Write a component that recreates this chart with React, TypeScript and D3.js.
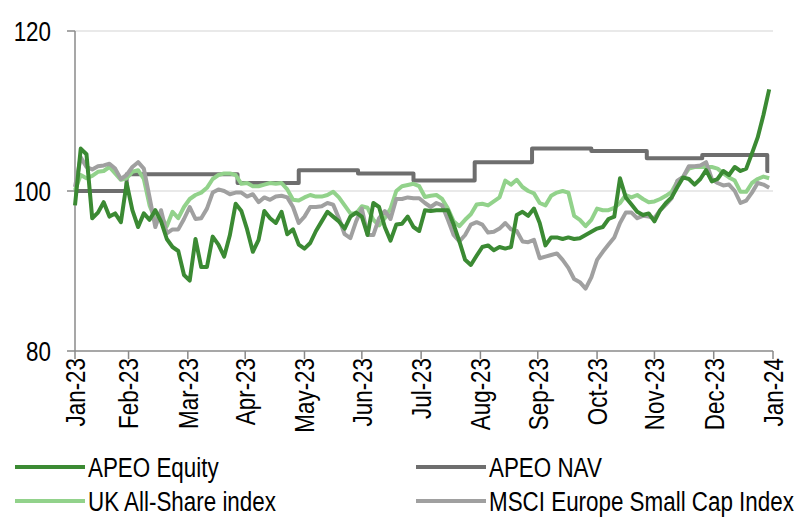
import React from "react";
import * as d3 from "d3";

const startDate = "2023-01-31";
const stepDays = 3;
const axisStart = "2023-01-31";
const axisEnd = "2024-01-31";
const yTicks = [80, 100, 120];

const apeoEquity = [
  98.2, 105.3, 104.6, 96.6, 97.3, 98.6, 96.8, 97.2, 96.1, 101, 97.6, 95.5, 97.2, 96.4, 97.6, 96.2, 94, 93, 92.5, 89.5,
  88.8, 94, 90.5, 90.5, 94.3, 93.3, 91.8, 94.5, 98.4, 97.5, 95.2, 92.4, 93.9, 97.5, 96.6, 96, 97.4, 94.6, 95.2, 93.3,
  92.8, 93.5, 95, 96.2, 97.4, 96.8, 96.2, 95.3, 96.8, 97.3, 96.8, 94.5, 98.5, 98, 95.5, 93.8, 95.8, 95.9, 96.8, 95.5,
  95, 97.6, 97.5, 97.6, 97.6, 97.6, 95.8, 93.7, 91.4, 90.75, 91.9, 93, 93.2, 92.6, 93, 92.8, 93, 97, 97.4, 96.9,
  97.8, 96, 93.2, 94.2, 94.2, 94, 94.2, 94, 94.1, 94.5, 94.9, 95.3, 95.5, 96.5, 96.8, 101.6, 99.2, 98.3, 97.4, 97,
  97.2, 96.2, 97.6, 98.5, 99.2, 100.5, 101.7, 101.5, 100.8, 101.5, 102.6, 101.2, 101.5, 102.5, 102, 103, 102.5, 102.8, 104.7, 106.7,
  109.5, 112.7,
];

const ukAllShare = [
  100.1, 102, 101.6, 101.9, 102.4, 102.5, 103, 102.2, 101.4, 101.6, 102.4, 102.6, 101.5, 98.2, 96.4, 96.8, 95.6, 97.4, 96.6, 98,
  99, 99.5, 99.8, 100.4, 101.5, 102, 102.2, 102.2, 102, 100.9, 101, 100.6, 100.6, 100.8, 101, 100.9, 101, 100.2, 98.9, 98.8,
  99.2, 99.5, 99.3, 99.3, 99.5, 99.9, 99.2, 98.2, 97.2, 97.2, 98.1, 97.9, 96.4, 95.7, 96.6, 97.8, 100, 100.6, 100.75, 100.9,
  100.6, 99.25, 99.4, 99.5, 99, 97.8, 96.2, 95.6, 96.4, 97.1, 98.3, 98.4, 98.2, 98.7, 99.2, 101.3, 100.8, 101.4, 100.5, 100,
  99.7, 98.5, 98.2, 99.4, 99.8, 100, 99.8, 96.9, 96.4, 95.6, 96.4, 97.8, 97.6, 97.6, 97.9, 98.5, 99.5, 99.2, 99.5, 99,
  98.6, 98.7, 99, 99.4, 99.9, 101.2, 101.75, 102.8, 103, 103, 103, 103, 102.8, 102.2, 101.7, 101.3, 99.9, 99.9, 101, 101.5,
  101.8, 101.6,
];

const msciSmallCap = [
  100.5, 104.2, 103, 102.7, 103.1, 103.2, 103.4, 102.8, 101.5, 102, 103, 103.6, 102.8, 99.2, 95.5, 97.6, 94.7, 95.2, 95.2, 96.5,
  98, 96.5, 96.6, 97.8, 99.8, 100.2, 100, 99.6, 99.8, 99.8, 99.3, 99.6, 98.6, 99.2, 98.9, 99.3, 99.4, 99.2, 98, 96,
  96.8, 98, 98, 98.1, 98.5, 98.3, 96.6, 94.6, 94.1, 96.2, 97.8, 94.5, 94.5, 96.6, 97.5, 96.5, 99, 99, 99.2, 99.1,
  99.1, 98.5, 98, 98.5, 98.2, 96.4, 94.5, 93.7, 94.5, 95.8, 96.1, 95.8, 94.8, 94.9, 95.3, 96, 95.2, 95, 93.7, 93.6,
  93.9, 91.6, 91.8, 92, 92.2, 91.4, 90.4, 89, 88.6, 87.8, 89.2, 91.4, 92.4, 93.3, 94.2, 96, 97.3, 97.3, 96.6, 96.9,
  96.8, 96.6, 97.6, 98.3, 99.1, 101.3, 101.75, 103.1, 103.1, 103.2, 103.6, 101.5, 101, 100.7, 100.8, 100, 98.5, 98.8, 99.8, 101,
  100.8, 100.4,
];

const navDates = [
  "2023-01-31", "2023-02-27", "2023-04-26", "2023-05-28", "2023-06-28", "2023-07-27",
  "2023-08-28", "2023-09-27", "2023-10-28", "2023-11-26", "2023-12-25", "2024-01-28", "2024-01-29",
];
const navValues = [100, 102.1, 101, 102.6, 102.2, 101.3, 103.6, 105.3, 105, 104.1, 104.5, 102.5, 102.5];

const seriesNames = ["APEO Equity", "APEO NAV", "UK All-Share index", "MSCI Europe Small Cap Index"];
const seriesColors = ["#3b8a33", "#6e6e6e", "#92d28b", "#a0a0a0"];

const FONT = "'Liberation Sans', Arial, sans-serif";
const FS = 28;
const SQ = 0.8;

export default function App() {
  const W = 800;
  const H = 524;
  const x0 = 75;
  const x1 = 773;
  const yTop = 31;
  const yBot = 351;

  const parse = d3.utcParse("%Y-%m-%d");
  const start = parse(startDate)!;
  const dates = apeoEquity.map((_, i) => d3.utcDay.offset(start, i * stepDays));

  const x = d3.scaleUtc().domain([parse(axisStart)!, parse(axisEnd)!]).range([x0, x1]);
  const y = d3.scaleLinear().domain([80, 120]).range([yBot, yTop]);

  const line = d3
    .line<number>()
    .x((_, i) => x(dates[i]))
    .y((d) => y(d));

  const navPts = navDates.map((d, i) => [x(parse(d)!), y(navValues[i])] as [number, number]);
  const navLine = d3.line().curve(d3.curveStepAfter)(navPts) || "";

  const monthTicks = d3
    .utcMonth.range(d3.utcDay.offset(parse(axisStart)!, 1), d3.utcDay.offset(parse(axisEnd)!, 2))
    .map((d) => d3.utcDay.offset(d, -1));
  const fmt = d3.utcFormat("%b-%y");

  const legend = [
    { name: seriesNames[0], color: seriesColors[0], lx: 15, ly: 467 },
    { name: seriesNames[1], color: seriesColors[1], lx: 416, ly: 467 },
    { name: seriesNames[2], color: seriesColors[2], lx: 15, ly: 501 },
    { name: seriesNames[3], color: seriesColors[3], lx: 416, ly: 501 },
  ];

  return (
    <svg
      width={W}
      height={H}
      style={{ position: "absolute", left: 0, top: 0, background: "#fff" }}
      fontFamily={FONT}
    >
      {yTicks.slice(1).map((t) => (
        <line key={t} x1={x0} x2={x1} y1={y(t)} y2={y(t)} stroke="#d4d4d4" strokeWidth={1.2} />
      ))}
      <line x1={x0} x2={x0} y1={yTop} y2={yBot} stroke="#8a8a8a" strokeWidth={1.5} />
      <line x1={x0} x2={x1} y1={yBot} y2={yBot} stroke="#8a8a8a" strokeWidth={1.5} />
      {yTicks.map((t) => (
        <g key={t}>
          <line x1={x0 - 8} x2={x0} y1={y(t)} y2={y(t)} stroke="#8a8a8a" strokeWidth={1.5} />
          <text
            transform={`translate(${51},${y(t)}) scale(${SQ},1)`}
            textAnchor="end"
            dy="0.35em"
            fontSize={FS}
            fill="#000"
          >
            {t}
          </text>
        </g>
      ))}
      {monthTicks.map((d) => (
        <g key={d.toISOString()}>
          <line x1={x(d)} x2={x(d)} y1={yBot} y2={yBot + 8} stroke="#8a8a8a" strokeWidth={1.5} />
          <text
            transform={`translate(${x(d)},${yBot + 7}) rotate(-90) scale(${SQ},1)`}
            textAnchor="end"
            dy="0.35em"
            fontSize={FS}
            fill="#000"
          >
            {fmt(d)}
          </text>
        </g>
      ))}
      <path d={navLine} fill="none" stroke={seriesColors[1]} strokeWidth={4} strokeLinejoin="round" />
      <path d={line(ukAllShare) || ""} fill="none" stroke={seriesColors[2]} strokeWidth={4} strokeLinejoin="round" />
      <path d={line(msciSmallCap) || ""} fill="none" stroke={seriesColors[3]} strokeWidth={4} strokeLinejoin="round" />
      <path d={line(apeoEquity) || ""} fill="none" stroke={seriesColors[0]} strokeWidth={4} strokeLinejoin="round" />
      {legend.map((l) => (
        <g key={l.name}>
          <line x1={l.lx} x2={l.lx + 70} y1={l.ly} y2={l.ly} stroke={l.color} strokeWidth={4} />
          <text
            transform={`translate(${l.lx + 73},${l.ly}) scale(${SQ},1)`}
            dy="0.35em"
            fontSize={FS}
            fill="#000"
          >
            {l.name}
          </text>
        </g>
      ))}
    </svg>
  );
}
